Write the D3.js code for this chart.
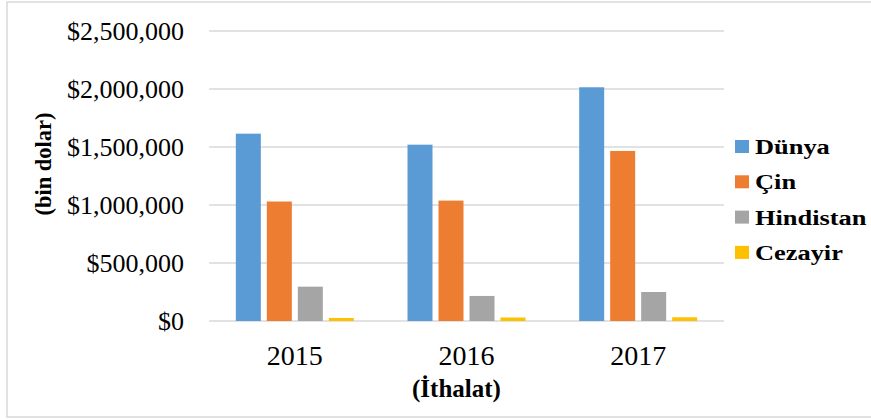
<!DOCTYPE html>
<html>
<head>
<meta charset="utf-8">
<script src="https://cdn.jsdelivr.net/npm/d3@7"></script>
<style>
	body { margin: 0; background: #fff; }
	text { font-family: "Liberation Serif", "Times New Roman", serif; fill: #000; }
</style>
</head>
<body>
<div id="chart"></div>
<script>
// data (bin dolar)
var years = ["2015", "2016", "2017"];
var seriesNames = ["Dünya", "Çin", "Hindistan", "Cezayir"];
var dunya = [1615000, 1520000, 2015000];
var cin = [1030000, 1038000, 1466000];
var hindistan = [296000, 216000, 250000];
var cezayir = [26000, 30000, 32000];
var yTicks = [0, 500000, 1000000, 1500000, 2000000, 2500000];
var seriesColors = ["#5b9bd5", "#ed7d31", "#a5a5a5", "#ffc000"];

var Width = 871, Height = 419;
var plot = {left: 209, right: 724, top: 31, bottom: 321};

var svg = d3.select("#chart")
	.append("svg")
	.attr("width", Width)
	.attr("height", Height);

// outer frame of the chart area
svg.append("rect")
	.attr("x", 7).attr("y", 2)
	.attr("width", 880).attr("height", 415)
	.attr("fill", "none")
	.attr("stroke", "#d9d9d9")
	.attr("stroke-width", 1.5);

var yScale = d3.scaleLinear()
	.domain([0, 2500000])
	.range([plot.bottom, plot.top]);

var x0 = d3.scaleBand()
	.domain(years)
	.range([plot.left, plot.right])
	.paddingInner(0.3127)
	.paddingOuter(0.1563);

var x1 = d3.scaleBand()
	.domain(seriesNames)
	.range([0, x0.bandwidth()])
	.paddingInner(6 / 31);

var color = d3.scaleOrdinal()
	.domain(seriesNames)
	.range(seriesColors);

// gridlines
svg.selectAll(".grid")
	.data(yTicks)
	.enter()
	.append("line")
	.attr("class", "grid")
	.attr("x1", plot.left)
	.attr("x2", plot.right)
	.attr("y1", function(d) { return yScale(d); })
	.attr("y2", function(d) { return yScale(d); })
	.attr("stroke", "#d9d9d9")
	.attr("stroke-width", 1.5);

// y axis labels
var fmt = d3.format("$,");
svg.selectAll(".ytick")
	.data(yTicks)
	.enter()
	.append("text")
	.attr("class", "ytick")
	.attr("x", 184)
	.attr("y", function(d) { return yScale(d) + 9; })
	.attr("text-anchor", "end")
	.style("font-size", "26px")
	.text(function(d) { return fmt(d); });

// rows per year
var rows = years.map(function(y, i) {
	return {year: y, values: [dunya[i], cin[i], hindistan[i], cezayir[i]]};
});

var groups = svg.selectAll(".year")
	.data(rows)
	.enter()
	.append("g")
	.attr("class", "year")
	.attr("transform", function(d) { return "translate(" + x0(d.year) + ",0)"; });

groups.selectAll("rect")
	.data(function(d) {
		return d.values.map(function(v, j) { return {name: seriesNames[j], value: v}; });
	})
	.enter()
	.append("rect")
	.attr("x", function(d) { return x1(d.name); })
	.attr("y", function(d) { return yScale(d.value); })
	.attr("width", x1.bandwidth())
	.attr("height", function(d) { return plot.bottom - yScale(d.value); })
	.attr("fill", function(d) { return color(d.name); });

// x axis labels
svg.selectAll(".xtick")
	.data(years)
	.enter()
	.append("text")
	.attr("class", "xtick")
	.attr("x", function(d) { return x0(d) + x0.bandwidth() / 2; })
	.attr("y", 365)
	.attr("text-anchor", "middle")
	.style("font-size", "28px")
	.text(function(d) { return d; });

// axis titles
svg.append("text")
	.attr("x", (plot.left + plot.right) / 2 - 10)
	.attr("y", 397)
	.attr("text-anchor", "middle")
	.style("font-size", "25px")
	.style("font-weight", "bold")
	.text("(İthalat)");

svg.append("text")
	.attr("transform", "translate(51,164) rotate(-90)")
	.attr("text-anchor", "middle")
	.style("font-size", "22.5px")
	.style("font-weight", "bold")
	.text("(bin dolar)");

// legend
var legend = svg.selectAll(".legend")
	.data(seriesNames)
	.enter()
	.append("g")
	.attr("class", "legend")
	.attr("transform", function(d, i) { return "translate(735," + (140 + i * 35.3) + ")"; });

legend.append("rect")
	.attr("width", 14)
	.attr("height", 13)
	.attr("fill", function(d) { return color(d); });

legend.append("text")
	.attr("transform", "translate(20,14) scale(1.2,1)")
	.style("font-size", "22px")
	.style("font-weight", "bold")
	.text(function(d) { return d; });
</script>
</body>
</html>
